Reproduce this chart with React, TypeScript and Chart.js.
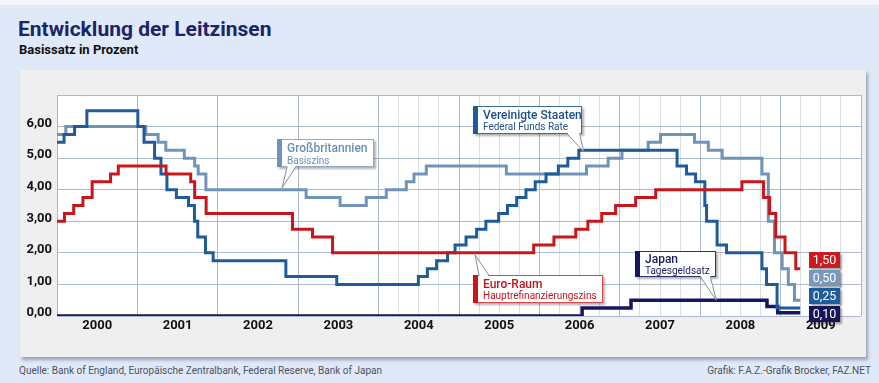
import React, { useEffect, useRef } from 'react';
import { Chart, registerables } from 'chart.js';

Chart.register(...registerables);

// ---------------- data ----------------
const yearLabels = ['2000', '2001', '2002', '2003', '2004', '2005', '2006', '2007', '2008', '2009'];
const xMin = 2000;
const xMax = 2010;
const quarterGridFrom = 2004;
const yMin = 0;
const yMax = 7;

// Federal Funds Rate (Vereinigte Staaten)
const usDates = ['2000-01-01', '2000-02-02', '2000-03-21', '2000-05-16', '2001-01-03', '2001-01-31', '2001-03-20', '2001-04-18', '2001-05-15', '2001-06-27', '2001-08-21', '2001-09-17', '2001-10-02', '2001-11-06', '2001-12-11', '2002-11-06', '2003-06-25', '2004-06-30', '2004-08-10', '2004-09-21', '2004-11-10', '2004-12-14', '2005-02-02', '2005-03-22', '2005-05-03', '2005-06-30', '2005-08-09', '2005-09-20', '2005-11-01', '2005-12-13', '2006-01-31', '2006-03-28', '2006-05-10', '2006-06-29', '2007-09-18', '2007-10-31', '2007-12-11', '2008-01-22', '2008-01-30', '2008-03-18', '2008-04-30', '2008-10-08', '2008-10-29', '2008-12-16', '2009-03-31'];
const usRates = [5.5, 5.75, 6.0, 6.5, 6.0, 5.5, 5.0, 4.5, 4.0, 3.75, 3.5, 3.0, 2.5, 2.0, 1.75, 1.25, 1.0, 1.25, 1.5, 1.75, 2.0, 2.25, 2.5, 2.75, 3.0, 3.25, 3.5, 3.75, 4.0, 4.25, 4.5, 4.75, 5.0, 5.25, 4.75, 4.5, 4.25, 3.5, 3.0, 2.25, 2.0, 1.5, 1.0, 0.25, 0.25];

// Basiszins (Großbritannien)
const ukDates = ['2000-01-01', '2000-02-10', '2001-02-08', '2001-04-05', '2001-05-10', '2001-08-02', '2001-09-18', '2001-10-04', '2001-11-08', '2003-02-06', '2003-07-10', '2003-11-06', '2004-02-05', '2004-05-06', '2004-06-10', '2004-08-05', '2005-08-04', '2006-08-03', '2006-11-09', '2007-01-11', '2007-05-10', '2007-07-05', '2007-12-06', '2008-02-07', '2008-04-10', '2008-10-08', '2008-11-06', '2008-12-04', '2009-01-08', '2009-02-05', '2009-03-05', '2009-03-31'];
const ukRates = [5.75, 6.0, 5.75, 5.5, 5.25, 5.0, 4.75, 4.5, 4.0, 3.75, 3.5, 3.75, 4.0, 4.25, 4.5, 4.75, 4.5, 4.75, 5.0, 5.25, 5.5, 5.75, 5.5, 5.25, 5.0, 4.5, 3.0, 2.0, 1.5, 1.0, 0.5, 0.5];

// Hauptrefinanzierungszins (Euro-Raum)
const euDates = ['2000-01-01', '2000-02-04', '2000-03-17', '2000-04-28', '2000-06-09', '2000-09-01', '2000-10-06', '2001-05-11', '2001-08-31', '2001-09-18', '2001-11-09', '2002-12-06', '2003-03-07', '2003-06-06', '2005-12-06', '2006-03-08', '2006-06-15', '2006-08-09', '2006-10-11', '2006-12-13', '2007-03-14', '2007-06-13', '2008-07-09', '2008-10-15', '2008-11-12', '2008-12-10', '2009-01-21', '2009-03-11', '2009-03-31'];
const euRates = [3.0, 3.25, 3.5, 3.75, 4.25, 4.5, 4.75, 4.5, 4.25, 3.75, 3.25, 2.75, 2.5, 2.0, 2.25, 2.5, 2.75, 3.0, 3.25, 3.5, 3.75, 4.0, 4.25, 3.75, 3.25, 2.5, 2.0, 1.5, 1.5];

// Tagesgeldsatz (Japan)
const jpDates = ['2000-01-01', '2006-07-14', '2007-02-21', '2008-10-31', '2008-12-19', '2009-03-31'];
const jpRates = [0, 0.25, 0.5, 0.3, 0.1, 0.1];

const titleText = 'Entwicklung der Leitzinsen';
const subtitleText = 'Basissatz in Prozent';
const sourceText = 'Quelle: Bank of England, Europäische Zentralbank, Federal Reserve, Bank of Japan';
const creditText = 'Grafik: F.A.Z.-Grafik Brocker, FAZ.NET';

const usLabel = ['Vereinigte Staaten', 'Federal Funds Rate'];
const ukLabel = ['Großbritannien', 'Basiszins'];
const euLabel = ['Euro-Raum', 'Hauptrefinanzierungszins'];
const jpLabel = ['Japan', 'Tagesgeldsatz'];

// callout anchor points on the lines (data coordinates: year, rate)
const usAnchor = [2006.55, 5.25];
const ukAnchor = [2002.8, 4.0];
const euAnchor = [2005.2, 2.0];
const jpAnchor = [2008.2, 0.5];

// ---------------- styles ----------------
const COLORS = { us: '#1f5b98', uk: '#7094b8', eu: '#c8161d', jp: '#17175f' };

const toYear = (s: string) => {
  const [y, m, d] = s.split('-').map(Number);
  const start = Date.UTC(y, 0, 1);
  const end = Date.UTC(y + 1, 0, 1);
  return y + (Date.UTC(y, m - 1, d) - start) / (end - start);
};
const toPoints = (dates: string[], rates: number[]) => dates.map((d, i) => ({ x: toYear(d), y: rates[i] }));
const fmt = (v: number) => v.toFixed(2).replace('.', ',');

const callouts = [
  { lines: ukLabel, anchor: ukAnchor, tipDy: -2, dx: -5, dy: -49, w: 97, h: 28, side: 'bottom', tail: [5, 14], l1: 13, l2: 24.5, color: COLORS.uk, border: '#93adc8', text: '#6a8fb4' },
  { lines: usLabel, anchor: usAnchor, tipDy: 1, dx: -111, dy: -45, w: 109, h: 28, side: 'bottom', tail: [-17, -4], l1: 13, l2: 24, color: COLORS.us, border: '#3d6b9c', text: '#1d4f8a' },
  { lines: euLabel, anchor: euAnchor, tipDy: 2, dx: -2, dy: 20, w: 130, h: 28, side: 'top', tail: [4, 14], l1: 12.5, l2: 24, color: COLORS.eu, border: '#d24a4a', text: '#c0141c' },
  { lines: jpLabel, anchor: jpAnchor, tipDy: 0, dx: -81, dy: -49, w: 81, h: 26, side: 'bottom', tail: [-16, -6], l1: 11.5, l2: 22.5, color: COLORS.jp, border: '#30306e', text: '#1a1a60' },
];

const endLabels = [
  { rates: euRates, dates: euDates, color: '#cc1a1f' },
  { rates: ukRates, dates: ukDates, color: '#7898bb' },
  { rates: usRates, dates: usDates, color: '#1f5c9a' },
  { rates: jpRates, dates: jpDates, color: '#15155e' },
];

const decorPlugin = {
  id: 'decor',
  beforeDraw(chart: any) {
    const { ctx, chartArea: a } = chart;
    ctx.save();
    ctx.fillStyle = '#ffffff';
    ctx.fillRect(a.left, a.top, a.right - a.left, a.bottom - a.top);
    ctx.restore();
  },
  afterDatasetsDraw(chart: any) {
    const { ctx } = chart;
    const xs = chart.scales.x;
    const ys = chart.scales.y;

    for (const c of callouts) {
      const tx = xs.getPixelForValue(c.anchor[0]);
      const ty = ys.getPixelForValue(c.anchor[1]) + c.tipDy;
      const bx = Math.round(tx + c.dx);
      const by = Math.round(ty + c.dy);
      ctx.save();
      ctx.shadowColor = 'rgba(0,0,0,0.30)';
      ctx.shadowOffsetX = 2;
      ctx.shadowOffsetY = 2;
      ctx.shadowBlur = 2;
      ctx.fillStyle = '#ffffff';
      ctx.fillRect(bx, by, c.w, c.h);
      ctx.shadowColor = 'transparent';
      ctx.strokeStyle = c.border;
      ctx.lineWidth = 1;
      ctx.strokeRect(bx + 0.5, by + 0.5, c.w - 1, c.h - 1);
      // tail
      const edge = c.side === 'bottom' ? by + c.h - 1.5 : by + 1.5;
      const b1 = tx + c.tail[0];
      const b2 = tx + c.tail[1];
      ctx.beginPath();
      ctx.moveTo(b1, edge);
      ctx.lineTo(tx, ty);
      ctx.lineTo(b2, edge);
      ctx.closePath();
      ctx.fillStyle = '#ffffff';
      ctx.fill();
      ctx.beginPath();
      ctx.moveTo(b1, edge + (c.side === 'bottom' ? 1 : -1));
      ctx.lineTo(tx, ty);
      ctx.lineTo(b2, edge + (c.side === 'bottom' ? 1 : -1));
      ctx.strokeStyle = '#8a8f98';
      ctx.stroke();
      // bar
      ctx.fillStyle = c.color;
      ctx.fillRect(bx, by, 5, c.h);
      // text
      ctx.fillStyle = c.text;
      ctx.textAlign = 'left';
      ctx.textBaseline = 'alphabetic';
      ctx.font = '500 12px Roboto, sans-serif';
      ctx.fillText(c.lines[0], bx + 10, by + c.l1);
      ctx.font = '400 10px Roboto, sans-serif';
      ctx.fillText(c.lines[1], bx + 10, by + c.l2);
      ctx.restore();
    }

    // end value boxes
    const lastX = Math.max(...endLabels.map((e) => toYear(e.dates[e.dates.length - 1])));
    const bx = Math.round(xs.getPixelForValue(lastX) + 9);
    let top = Math.round(ys.getPixelForValue(endLabels[0].rates[endLabels[0].rates.length - 1]) - 17);
    for (const e of endLabels) {
      ctx.save();
      ctx.shadowColor = 'rgba(0,0,0,0.35)';
      ctx.shadowOffsetX = 2;
      ctx.shadowOffsetY = 2;
      ctx.shadowBlur = 2;
      ctx.fillStyle = e.color;
      ctx.fillRect(bx, top, 31, 16);
      ctx.shadowColor = 'transparent';
      ctx.fillStyle = '#ffffff';
      ctx.font = '400 12.5px Roboto, sans-serif';
      ctx.textAlign = 'center';
      ctx.textBaseline = 'middle';
      ctx.fillText(fmt(e.rates[e.rates.length - 1]), bx + 15.5, top + 8.5);
      ctx.restore();
      top += 18;
    }
  },
};

export default function App() {
  const ref = useRef<HTMLCanvasElement>(null);

  useEffect(() => {
    Chart.defaults.font.family = 'Roboto, sans-serif';
    const lineDs = (data: any, color: string, width: number) => ({
      data,
      borderColor: color,
      backgroundColor: color,
      borderWidth: width,
      pointRadius: 0,
      pointHoverRadius: 0,
      stepped: true,
      tension: 0,
      fill: false,
      borderJoinStyle: 'miter',
      borderCapStyle: 'butt',
    });
    const chart = new Chart(ref.current as HTMLCanvasElement, {
      type: 'line',
      data: {
        datasets: [
          { label: 'Euro-Raum', ...lineDs(toPoints(euDates, euRates), COLORS.eu, 3) },
          { label: 'Vereinigte Staaten', ...lineDs(toPoints(usDates, usRates), COLORS.us, 3) },
          { label: 'Großbritannien', ...lineDs(toPoints(ukDates, ukRates), COLORS.uk, 3) },
          { label: 'Japan', ...lineDs(toPoints(jpDates, jpRates), COLORS.jp, 3.5) },
        ] as any,
      },
      options: {
        responsive: false,
        maintainAspectRatio: false,
        devicePixelRatio: 1,
        animation: false,
        events: [],
        layout: { padding: { left: 0, top: 25, right: 5, bottom: 0 } },
        plugins: { legend: { display: false }, tooltip: { enabled: false } },
        scales: {
          x: {
            type: 'linear',
            position: 'bottom',
            min: xMin,
            max: xMax,
            afterBuildTicks: (scale: any) => {
              const t: any[] = [];
              for (let i = 0; i <= (xMax - xMin) * 4; i++) {
                const v = xMin + i / 4;
                if (i % 4 === 0 || v >= quarterGridFrom) t.push({ value: v });
              }
              scale.ticks = t;
            },
            afterFit: (scale: any) => {
              scale.height = 0;
            },
            ticks: { display: false },
            grid: {
              drawTicks: false,
              lineWidth: 1,
              color: (ctx: any) => (ctx.tick && Number.isInteger(ctx.tick.value) ? '#a9b7c9' : '#d9dfe7'),
            },
            border: { display: false },
          },
          xl: {
            type: 'linear',
            position: 'bottom',
            min: xMin,
            max: xMax,
            afterBuildTicks: (scale: any) => {
              scale.ticks = yearLabels.map((_, i) => ({ value: xMin + i + 0.5 }));
            },
            afterFit: (scale: any) => {
              scale.height = 41;
            },
            ticks: {
              autoSkip: false,
              maxRotation: 0,
              padding: 2,
              color: '#111111',
              font: { size: 13, weight: 'bold' },
              callback: (_v: any, i: number) => yearLabels[i],
            },
            grid: { display: false, drawTicks: false },
            border: { display: false },
          },
          y: {
            type: 'linear',
            position: 'left',
            min: yMin,
            max: yMax,
            afterFit: (scale: any) => {
              scale.width = 37;
            },
            ticks: {
              stepSize: 1,
              padding: 5,
              labelOffset: -3,
              color: '#111111',
              font: { size: 13, weight: 'bold' },
              callback: (v: any) => (v === yMax ? '' : fmt(Number(v))),
            },
            grid: { drawTicks: false, color: '#adbacb', lineWidth: 1 },
            border: { display: false },
          },
        },
      } as any,
      plugins: [decorPlugin],
    });
    return () => chart.destroy();
  }, []);

  return (
    <div
      style={{
        position: 'absolute',
        left: 0,
        top: 0,
        width: 879,
        height: 383,
        background: '#e0e9f8',
        overflow: 'hidden',
        fontFamily: 'Roboto, sans-serif',
      }}
    >
      <div style={{ position: 'absolute', left: 0, top: 0, width: 879, height: 5, background: '#f3f6fb' }} />
      <div
        style={{
          position: 'absolute',
          left: 18,
          top: 19,
          fontSize: 21,
          lineHeight: '21px',
          fontWeight: 700,
          color: '#1b2568',
          whiteSpace: 'nowrap',
        }}
      >
        {titleText}
      </div>
      <div
        style={{
          position: 'absolute',
          left: 19,
          top: 43,
          fontSize: 13,
          lineHeight: '13px',
          fontWeight: 700,
          color: '#111',
          whiteSpace: 'nowrap',
        }}
      >
        {subtitleText}
      </div>
      <div
        style={{
          position: 'absolute',
          left: 20,
          top: 70,
          width: 846,
          height: 287,
          background: '#efefef',
          boxShadow: '2px 3px 3px rgba(70,80,100,0.45)',
        }}
      >
        <canvas ref={ref} width={846} height={287} style={{ display: 'block', width: 846, height: 287 }} />
      </div>
      <div
        style={{
          position: 'absolute',
          left: 19,
          top: 366,
          fontSize: 10,
          lineHeight: '10px',
          color: '#4d5360',
          whiteSpace: 'nowrap',
        }}
      >
        {sourceText}
      </div>
      <div
        style={{
          position: 'absolute',
          right: 8,
          top: 366,
          fontSize: 10,
          lineHeight: '10px',
          color: '#4d5360',
          whiteSpace: 'nowrap',
        }}
      >
        {creditText}
      </div>
    </div>
  );
}
